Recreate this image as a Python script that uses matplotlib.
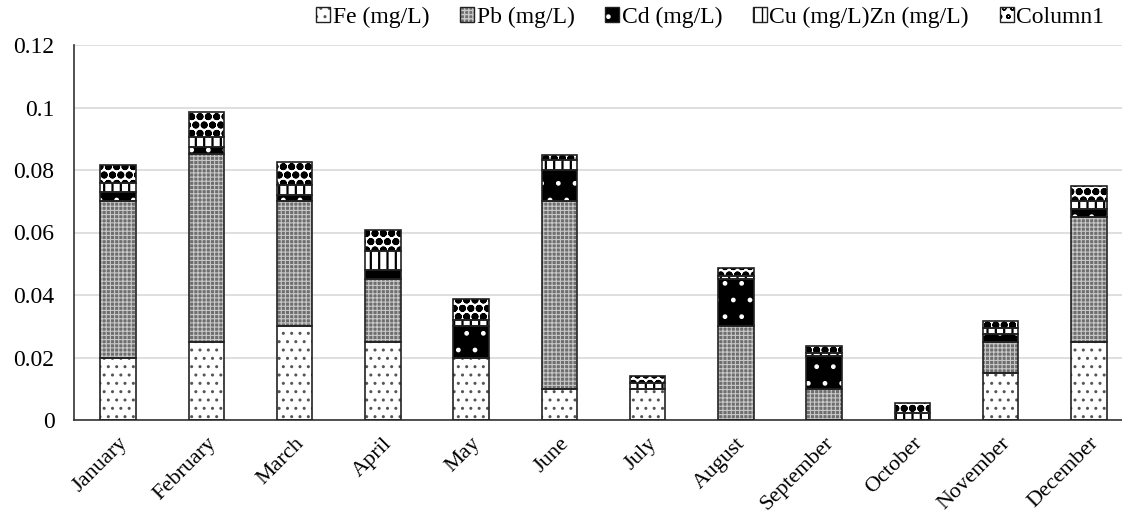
import matplotlib
matplotlib.use("Agg")
import matplotlib.pyplot as plt
import numpy as np
from matplotlib.patches import Patch
from matplotlib.legend_handler import HandlerTuple

months = ["January", "February", "March", "April", "May", "June", "July",
          "August", "September", "October", "November", "December"]
fe = [0.02, 0.025, 0.03, 0.025, 0.02, 0.01, 0.01, 0.0, 0.0, 0.0, 0.015, 0.025]
pb = [0.05, 0.06, 0.04, 0.02, 0.0, 0.06, 0.0, 0.03, 0.01, 0.0, 0.01, 0.04]
cd = [0.003, 0.0025, 0.002, 0.003, 0.01, 0.01, 0.0, 0.015, 0.0105, 0.0, 0.0025, 0.0025]
cu_zn = [0.003, 0.003, 0.0032, 0.006, 0.002, 0.0032, 0.002, 0.0012, 0.001, 0.0022, 0.002, 0.0025]
column1 = [0.0055, 0.008, 0.0073, 0.0068, 0.0067, 0.0016, 0.0022, 0.0023, 0.0023, 0.0033, 0.0022, 0.005]
labels = ["Fe (mg/L)", "Pb (mg/L)", "Cd (mg/L)", "Cu (mg/L)Zn (mg/L)", "Column1"]
yticks = [0, 0.02, 0.04, 0.06, 0.08, 0.1, 0.12]
ytick_labels = ["0", "0.02", "0.04", "0.06", "0.08", "0.1", "0.12"]

plt.rcParams['font.family'] = ['Liberation Serif', 'DejaVu Serif']

# (facecolor, hatch, hatchcolor, hatch linewidth)
styles = [
    ("white", "..", "#555555", 1.0),
    ("#6e6e6e", "++++", "#c8c8c8", 0.8),
    ("black", ".", "white", 1.0),
    ("white", "||", "black", 1.6),
    ("white", "oo", "black", 2.6),
]

fig = plt.figure(figsize=(11.22, 5.19), dpi=100)
ax = fig.add_axes([74 / 1122, 1 - 420 / 519, (1133 - 74) / 1122, 375 / 519])

x = np.arange(len(months))
series = [fe, pb, cd, cu_zn, column1]
bottom = np.zeros(len(months))
w = 0.4
handles = []
for vals, (fc, hatch, hc, hlw), lab in zip(series, styles, labels):
    vals = np.array(vals)
    with plt.rc_context({'hatch.linewidth': hlw}):
        ax.bar(x, vals, w, bottom=bottom, color=fc, hatch=hatch, edgecolor=hc,
               linewidth=0, zorder=2)
        hfill = Patch(facecolor=fc, hatch=hatch, edgecolor=hc, linewidth=0)
    ax.bar(x, vals, w, bottom=bottom, fill=False, edgecolor="#222222",
           linewidth=1.2, zorder=3)
    bottom += vals
    hedge = Patch(fill=False, edgecolor="#222222", linewidth=1.0)
    handles.append((hfill, hedge))

ax.set_xlim(-0.5, len(months) - 0.5)
ax.set_ylim(0, 0.12)
ax.set_yticks(yticks)
ax.set_yticklabels(ytick_labels, fontsize=17)
ax.set_xticks(x)
ax.set_xticklabels(months, rotation=45, ha="right", rotation_mode="anchor", fontsize=16)
ax.tick_params(axis="x", length=0, pad=10)
ax.tick_params(axis="y", length=0, pad=14)
ax.yaxis.grid(True, color="#d9d9d9", linewidth=1.2, zorder=0)
ax.set_axisbelow(True)
for s in ["top", "right"]:
    ax.spines[s].set_visible(False)
ax.spines["left"].set_color("#333333")
ax.spines["bottom"].set_color("#333333")
ax.spines["left"].set_linewidth(1.2)
ax.spines["bottom"].set_linewidth(1.2)

fig.legend(handles, labels, loc="center right", bbox_to_anchor=(1.003, 1 - 17 / 519),
           ncol=5, frameon=False, fontsize=17, handlelength=0.6, handleheight=0.6,
           handletextpad=0.1, columnspacing=1.3,
           handler_map={tuple: HandlerTuple(ndivide=1, pad=0)})

fig.savefig("out.png", dpi=100)
